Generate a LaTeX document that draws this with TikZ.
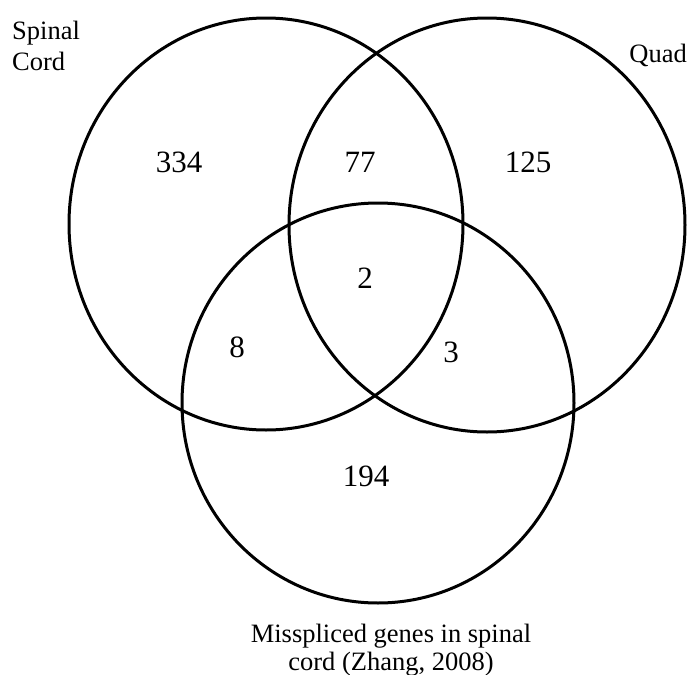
\documentclass[tikz,border=0pt]{standalone}
\usepackage{fontspec}
\setmainfont{Liberation Serif}
\usetikzlibrary{shapes.geometric}
\begin{document}
\begin{tikzpicture}[x=1pt,y=-1pt,
  setc/.style={draw, ellipse, line width=3pt, inner sep=0pt},
  num/.style={font=\fontsize{31}{31}\selectfont, inner sep=0pt},
  lab/.style={font=\fontsize{26.5}{31}\selectfont, inner sep=0pt}]
\useasboundingbox[fill=white] (0,0) rectangle (689,675);
\node[setc, minimum width=394pt, minimum height=412pt] (sc) at (266,224) {};
\node[setc, minimum width=396pt, minimum height=414pt] (qd) at (487,225) {};
\node[setc, minimum width=392pt, minimum height=400pt] (ms) at (378,403) {};
\node[num] (n334) at (179,162) {334};
\node[num] (n77) at (360,162) {77};
\node[num] (n125) at (528,162) {125};
\node[num] (n2) at (365,278) {2};
\node[num] (n8) at (237,347) {8};
\node[num] (n3) at (451,352) {3};
\node[num] (n194) at (366,476) {194};
\node[lab, anchor=base west] (l1) at (12,39) {Spinal};
\node[lab, anchor=base west] (l2) at (12,70) {Cord};
\node[lab, anchor=base east] (l3) at (687,62) {Quad};
\node[lab, anchor=base] (l4) at (391,642) {Misspliced genes in spinal};
\node[lab, anchor=base] (l5) at (391,670) {cord (Zhang, 2008)};
\end{tikzpicture}
\end{document}
